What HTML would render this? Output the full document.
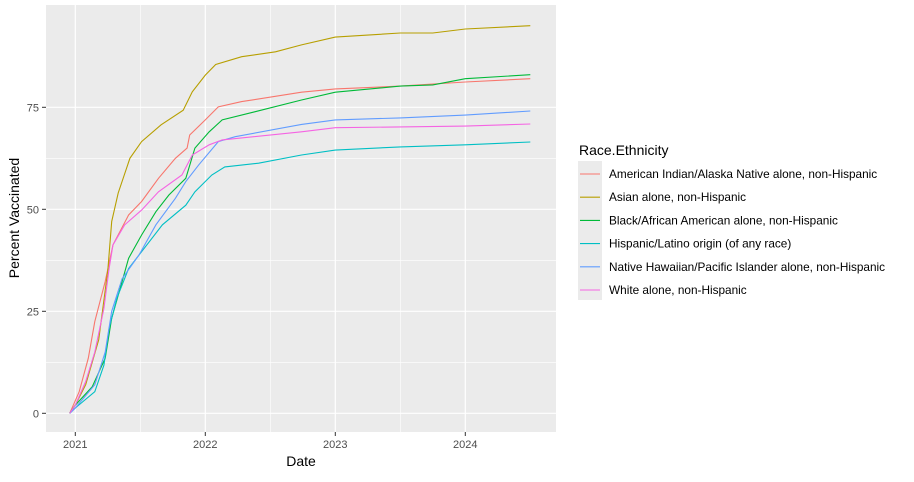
<!DOCTYPE html>
<html><head><meta charset="utf-8"><style>
body{margin:0;background:#fff;font-family:"Liberation Sans",Arial,sans-serif}
</style></head><body>
<svg id="chart" width="914" height="477" xmlns="http://www.w3.org/2000/svg" font-family="Liberation Sans, Arial, sans-serif">
<rect x="46" y="5" width="510" height="427" fill="#EBEBEB"/>
<g id="grid"></g>
<g id="series"></g>
<g id="axes"></g>
<text x="301" y="466" font-size="14" text-anchor="middle" fill="#000">Date</text>
<text transform="translate(19,218) rotate(-90)" font-size="14" text-anchor="middle" fill="#000">Percent Vaccinated</text>
<g id="legend">
<text x="579" y="155" font-size="14" fill="#000">Race.Ethnicity</text>
<rect x="578" y="161" width="24" height="139" fill="#EBEBEB"/>
</g>
</svg>
<script>
const categories=["American Indian/Alaska Native alone, non-Hispanic","Asian alone, non-Hispanic","Black/African American alone, non-Hispanic","Hispanic/Latino origin (of any race)","Native Hawaiian/Pacific Islander alone, non-Hispanic","White alone, non-Hispanic"];
const colors=["#F8766D","#B79F00","#00BA38","#00BFC4","#619CFF","#F564E3"];
const yTicks=[0,25,50,75];
const xTicks=[2021,2022,2023,2024];
const aianT=[2020.957,2021.03,2021.1,2021.15,2021.23,2021.29,2021.41,2021.51,2021.64,2021.77,2021.86,2021.88,2022.0,2022.1,2022.28,2022.74,2023,2023.5,2024,2024.5];
const aianV=[0,5.3,13.5,22.5,32.3,41.3,48.6,51.9,57.6,62.5,65,68.2,71.9,75.1,76.4,78.7,79.5,80.2,81.2,82];
const asianT=[2020.957,2021.0,2021.08,2021.18,2021.25,2021.28,2021.33,2021.42,2021.51,2021.66,2021.83,2021.9,2022.0,2022.08,2022.28,2022.54,2022.74,2023,2023.5,2023.75,2024,2024.5];
const asianV=[0,2,7,18,35,47,54,62.5,66.6,70.7,74.3,78.8,82.9,85.5,87.4,88.6,90.3,92.2,93.2,93.2,94.2,95];
const blackT=[2020.957,2021.0,2021.13,2021.23,2021.28,2021.36,2021.41,2021.51,2021.62,2021.72,2021.85,2021.92,2022.03,2022.13,2022.38,2022.74,2023,2023.5,2023.75,2024,2024.5];
const blackV=[0,2,6.5,13.5,23.3,32.3,38,43.7,49.4,53.5,57.6,65,69,71.9,73.9,76.8,78.7,80.2,80.5,82,83];
const hispT=[2020.957,2021.0,2021.15,2021.22,2021.26,2021.32,2021.41,2021.51,2021.67,2021.85,2021.92,2022.05,2022.15,2022.41,2022.74,2023,2023.5,2024,2024.5];
const hispV=[0,1.3,5.3,11.8,20.8,28.2,35.5,39.6,46.2,51,54.3,58.4,60.4,61.3,63.3,64.5,65.3,65.8,66.5];
const nhpiT=[2020.957,2021.0,2021.15,2021.23,2021.28,2021.36,2021.49,2021.62,2021.77,2021.85,2021.95,2022.1,2022.23,2022.74,2023,2023.5,2024,2024.5];
const nhpiV=[0,1.3,7,15,25,33,38.8,46.2,52.7,56.8,60.9,66.6,67.8,70.8,71.9,72.4,73.1,74.1];
const whiteT=[2020.957,2021.0,2021.08,2021.15,2021.22,2021.26,2021.29,2021.38,2021.51,2021.64,2021.82,2021.9,2022.03,2022.13,2022.74,2023,2023.5,2024,2024.5];
const whiteV=[0,2,7.8,15,25.7,35.5,41.3,46.2,49.8,54.3,58.4,63.3,65.8,67,69,70,70.2,70.4,70.9];
const seriesT=[aianT,asianT,blackT,hispT,nhpiT,whiteT];
const seriesV=[aianV,asianV,blackV,hispV,nhpiV,whiteV];
const names=["aian","asian","black","hispanic","nhpi","white"];

const NS="http://www.w3.org/2000/svg";
function xs(t){return 75.3+(t-2021)*130;}
function ys(v){return 413.3-v*4.08;}
function mk(tag,attrs,parent){const e=document.createElementNS(NS,tag);for(const k in attrs)e.setAttribute(k,attrs[k]);parent.appendChild(e);return e;}
const grid=document.getElementById('grid'),axes=document.getElementById('axes'),ser=document.getElementById('series'),leg=document.getElementById('legend');
for(let i=0;i<yTicks.length-1;i++){const v=(yTicks[i]+yTicks[i+1])/2;const l=mk('line',{x1:46,x2:556,y1:ys(v),y2:ys(v),stroke:'#fff','stroke-width':0.6},grid);

}
for(let i=0;i<xTicks.length-1;i++){const t=(xTicks[i]+xTicks[i+1])/2;const l=mk('line',{x1:xs(t),x2:xs(t),y1:5,y2:432,stroke:'#fff','stroke-width':0.6},grid);

}
yTicks.forEach(v=>{const l=mk('line',{x1:46,x2:556,y1:ys(v),y2:ys(v),stroke:'#fff','stroke-width':1.2},grid);


const tk=mk('line',{x1:42,x2:46,y1:ys(v),y2:ys(v),stroke:'#333','stroke-width':1},axes);


const tx=mk('text',{x:39,y:ys(v)+4,'font-size':11,'text-anchor':'end',fill:'#4D4D4D'},axes);tx.textContent=v;

});
xTicks.forEach(t=>{const l=mk('line',{x1:xs(t),x2:xs(t),y1:5,y2:432,stroke:'#fff','stroke-width':1.2},grid);


const tk=mk('line',{x1:xs(t),x2:xs(t),y1:432,y2:436,stroke:'#333','stroke-width':1},axes);


const tx=mk('text',{x:xs(t),y:448,'font-size':11,'text-anchor':'middle',fill:'#4D4D4D'},axes);tx.textContent=t;

});
seriesT.forEach((T,i)=>{const pts=T.map((t,j)=>xs(t).toFixed(1)+','+ys(seriesV[i][j]).toFixed(1)).join(' ');
const p=mk('polyline',{points:pts,fill:'none',stroke:colors[i],'stroke-width':1.1},ser);

});
categories.forEach((c,i)=>{const y=174+i*23.2;
const l=mk('line',{x1:580,x2:600,y1:y,y2:y,stroke:colors[i],'stroke-width':1.1},leg);


const tx=mk('text',{x:609,y:y+4,'font-size':11.8,fill:'#000'},leg);tx.textContent=c;

});
</script>
</body></html>
